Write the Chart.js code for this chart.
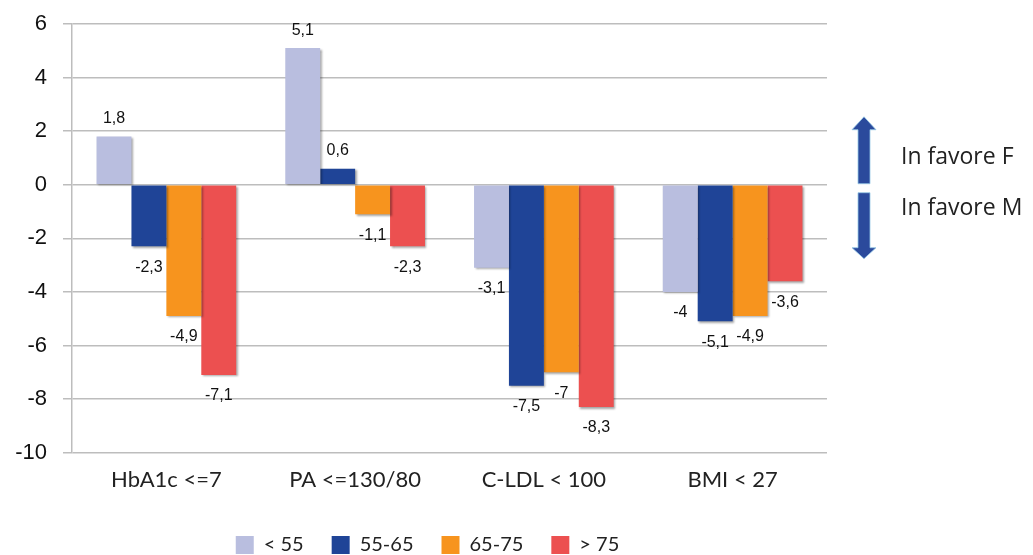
<!DOCTYPE html>
<html>
<head>
<meta charset="utf-8">
<script src="https://cdn.jsdelivr.net/npm/chart.js@4/dist/chart.umd.min.js"></script>
<style>
  html, body { margin: 0; padding: 0; background: #fff; }
  #wrap { width: 1033px; height: 555px; position: relative; }
</style>
</head>
<body>
<div id="wrap"><canvas id="c" width="1033" height="555"></canvas></div>
<script>
// Categories (targets) and age groups
const categories = ['HbA1c <=7', 'PA <=130/80', 'C-LDL < 100', 'BMI < 27'];
const ageGroups = ['< 55', '55-65', '65-75', '> 75'];

// Differences (F vs M) per age group, one array per group
const under55 = [1.8, 5.1, -3.1, -4];
const from55to65 = [-2.3, 0.6, -7.5, -5.1];
const from65to75 = [-4.9, -1.1, -7, -4.9];
const over75 = [-7.1, -2.3, -8.3, -3.6];

const yTicks = [6, 4, 2, 0, -2, -4, -6, -8, -10];

const colors = ['#B9BEDF', '#1F4497', '#F7941E', '#EC5050'];
const seriesValues = [under55, from55to65, from65to75, over75];

const labelFont = '"Lato", "Open Sans", sans-serif';

// Soft drop shadow under the bars
const barShadow = {
  id: 'barShadow',
  beforeDatasetsDraw(chart) {
    const ctx = chart.ctx;
    ctx.save();
    ctx.shadowColor = 'rgba(0,0,0,0.35)';
    ctx.shadowOffsetX = 1.5;
    ctx.shadowOffsetY = 1.5;
    ctx.shadowBlur = 2;
  },
  afterDatasetsDraw(chart) {
    chart.ctx.restore();
  }
};

// Value labels above positive bars and below negative bars
const valueLabels = {
  id: 'valueLabels',
  afterDatasetsDraw(chart) {
    const ctx = chart.ctx;
    ctx.save();
    ctx.font = '16px "Liberation Sans", Arial, sans-serif';
    ctx.fillStyle = '#111';
    ctx.textAlign = 'center';
    ctx.textBaseline = 'middle';
    chart.data.datasets.forEach((ds, di) => {
      const meta = chart.getDatasetMeta(di);
      meta.data.forEach((bar, i) => {
        const v = ds.data[i];
        const txt = String(v).replace('.', ',');
        const y = v >= 0 ? bar.y - 18 : bar.y + 21;
        ctx.fillText(txt, bar.x, y);
      });
    });
    ctx.restore();
  }
};

// Direction arrows and captions at the right of the plot
const sideNotes = {
  id: 'sideNotes',
  afterDraw(chart) {
    const ctx = chart.ctx;
    const y = chart.scales.y;
    const cx = 864;
    const zero = y.getPixelForValue(0);
    ctx.save();
    ctx.fillStyle = '#2B4A9C';
    ctx.strokeStyle = 'rgba(150,200,230,0.8)';
    ctx.lineWidth = 1;
    // up arrow
    ctx.beginPath();
    ctx.moveTo(cx, zero - 68);
    ctx.lineTo(cx + 12, zero - 55);
    ctx.lineTo(cx + 6, zero - 55);
    ctx.lineTo(cx + 6, zero - 1);
    ctx.lineTo(cx - 6, zero - 1);
    ctx.lineTo(cx - 6, zero - 55);
    ctx.lineTo(cx - 12, zero - 55);
    ctx.closePath();
    ctx.fill();
    ctx.stroke();
    // down arrow
    ctx.beginPath();
    ctx.moveTo(cx, zero + 74);
    ctx.lineTo(cx + 12, zero + 63);
    ctx.lineTo(cx + 6, zero + 63);
    ctx.lineTo(cx + 6, zero + 8);
    ctx.lineTo(cx - 6, zero + 8);
    ctx.lineTo(cx - 6, zero + 63);
    ctx.lineTo(cx - 12, zero + 63);
    ctx.closePath();
    ctx.fill();
    ctx.stroke();

    ctx.fillStyle = '#222';
    ctx.font = '23px "Open Sans", sans-serif';
    ctx.textAlign = 'left';
    ctx.textBaseline = 'alphabetic';
    ctx.fillText('In favore F', 901, zero - 21);
    ctx.fillText('In favore M', 901, zero + 30);
    ctx.restore();
  }
};

// Nudge the legend row to the left
const legendShift = {
  id: 'legendShift',
  afterLayout(chart) {
    const lg = chart.legend;
    if (lg) { lg.left -= 22; lg.right -= 22; }
  }
};

new Chart(document.getElementById('c'), {
  type: 'bar',
  data: {
    labels: categories,
    datasets: ageGroups.map((g, k) => ({
      label: g,
      data: seriesValues[k],
      backgroundColor: colors[k],
      borderWidth: 0,
      categoryPercentage: 0.74,
      barPercentage: 1.0
    }))
  },
  options: {
    responsive: false,
    animation: false,
    devicePixelRatio: 1,
    layout: { padding: { left: 0, right: 206, top: 24, bottom: -10 } },
    plugins: {
      tooltip: { enabled: false },
      legend: {
        position: 'bottom',
        fullSize: false,
        labels: {
          boxWidth: 18,
          boxHeight: 18,
          padding: 28,
          color: '#222',
          font: { family: labelFont, size: 20 }
        }
      }
    },
    scales: {
      x: {
        grid: { display: false, drawTicks: false },
        border: { display: false },
        ticks: {
          color: '#222',
          padding: 14,
          font: { family: labelFont, size: 22 }
        }
      },
      y: {
        min: -10,
        max: 6,
        afterBuildTicks(scale) {
          scale.ticks = yTicks.map(v => ({ value: v }));
        },
        afterFit(scale) { scale.width = 72; scale.paddingTop = 0; },
        grid: {
          color: '#BDBDBD',
          lineWidth: 1.5,
          tickLength: 9,
          tickColor: '#BDBDBD'
        },
        border: { display: true, color: '#BDBDBD', width: 1.5 },
        ticks: {
          color: '#111',
          padding: 16,
          font: { family: '"Liberation Sans", Arial, sans-serif', size: 22 }
        }
      }
    }
  },
  plugins: [barShadow, valueLabels, sideNotes, legendShift]
});
</script>
</body>
</html>
